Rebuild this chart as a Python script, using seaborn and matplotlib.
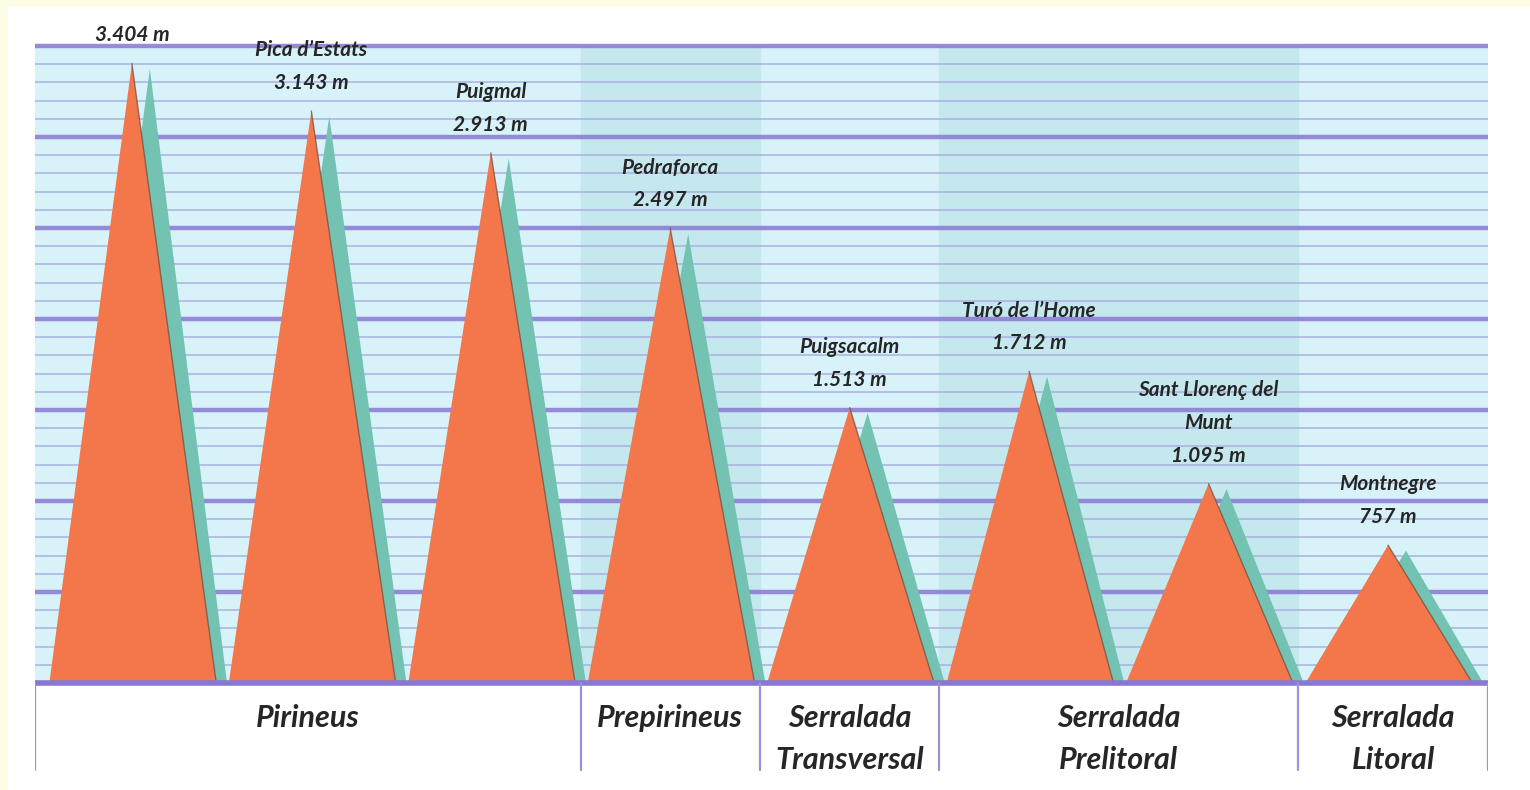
import numpy as np
import pandas as pd
import matplotlib
matplotlib.use('Agg')
import matplotlib.pyplot as plt
from matplotlib.patches import Rectangle
import seaborn as sns

# --- Dades ---
noms = ['', 'Pica d\u2019Estats', 'Puigmal', 'Pedraforca', 'Puigsacalm',
        'Tur\u00f3 de l\u2019Home', 'Sant Lloren\u00e7 del\nMunt', 'Montnegre']
alcades = [3404, 3143, 2913, 2497, 1513, 1712, 1095, 757]
regions = ['Pirineus', 'Prepirineus', 'Serralada\nTransversal',
           'Serralada\nPrelitoral', 'Serralada\nLitoral']
cims_per_regio = [3, 1, 1, 2, 1]
regions_ombrejades = ['Prepirineus', 'Serralada\nPrelitoral']

# --- Estil ---
TARONJA = '#F4774C'
VERD = '#74C2B2'
FONS = '#D8F2FA'
FRANJA = '#C5E7EE'
LILA_FORT = '#8878D2'
LILA_FI = '#A9AEE0'
TEXT = '#262626'

sns.set_theme(style='white')
plt.rcParams['font.family'] = ['Lato', 'DejaVu Sans']

df = pd.DataFrame({'nom': noms, 'alcada': alcades})
df['x'] = np.arange(len(df)) + 0.5
df['etiqueta'] = [(n + '\n' if n else '') + f'{h:,}'.replace(',', '.') + ' m'
                  for n, h in zip(df['nom'], df['alcada'])]

# escala de pixels: base a y=683, 3500 m a y=46
px_m = (683 - 46) / 3500
W, H = 1530, 790
ymin, ymax = -500, 3700
fig = plt.figure(figsize=(W / 100, H / 100), dpi=100, facecolor='#FDFDE6')
fig.add_artist(Rectangle((8 / W, 0), 1, (H - 7) / H, transform=fig.transFigure,
                         color='white', zorder=-10))
bot_px = 683 - ymin * px_m
top_px = 683 - ymax * px_m
ax = fig.add_axes([35 / W, (H - bot_px) / H, (1488 - 35) / W, (bot_px - top_px) / H])
ax.set_facecolor('none')

xmin, xmax = -0.04, len(df) + 0.057
ax.set_xlim(xmin, xmax)
ax.set_ylim(ymin, ymax)
ax.axis('off')

# fons blau
ax.add_patch(Rectangle((xmin, 0), xmax - xmin, 3500, color=FONS, zorder=0))
limits = np.concatenate([[0], np.cumsum(cims_per_regio)]).astype(float)
limits[0], limits[-1] = xmin, xmax
for reg, a, b in zip(regions, limits[:-1], limits[1:]):
    if reg in regions_ombrejades:
        ax.add_patch(Rectangle((a, 0), b - a, 3500, color=FRANJA, zorder=0.5))

# línies horitzontals
for y in range(100, 3500, 100):
    if y % 500:
        ax.plot([xmin, xmax], [y, y], color=LILA_FI, lw=1.3, alpha=0.8, zorder=1)
for y in range(500, 3501, 500):
    ax.plot([xmin, xmax], [y, y], color=LILA_FORT, lw=3.2, alpha=0.85, zorder=1.5)

# muntanyes
for _, r in df.iterrows():
    x, h = r['x'], r['alcada']
    ax.fill([x - 0.36, x + 0.10, x + 0.53], [0, h - 30, 0], color=VERD, lw=0, zorder=2)
    ax.fill([x - 0.46, x, x + 0.47], [0, h, 0], color=TARONJA, lw=0, zorder=3)
    ax.plot([x, x + 0.47], [h, 0], color='#6E4A3A', lw=1.0, alpha=0.7, zorder=3.1)
    ax.annotate(r['etiqueta'], (x, h), xytext=(0, 13), textcoords='offset points',
                ha='center', va='bottom', multialignment='center', fontsize=15,
                fontstyle='italic', fontweight='bold', color=TEXT, linespacing=1.8,
                zorder=5, annotation_clip=False)

# línia de base i caixes de regions
ax.plot([xmin, xmax], [0, 0], color=LILA_FORT, lw=4, zorder=4, solid_capstyle='butt')
for xl in limits:
    ax.plot([xl, xl], [0, -480], color='#9C92DA', lw=1.6, zorder=4)
for reg, a, b in zip(regions, limits[:-1], limits[1:]):
    ax.text((a + b) / 2, -118, reg, ha='center', va='top', fontsize=22,
            fontstyle='italic', fontweight='bold', color=TEXT, linespacing=1.6,
            multialignment='center', zorder=5)

fig.savefig('out.png', dpi=100, facecolor=fig.get_facecolor())
